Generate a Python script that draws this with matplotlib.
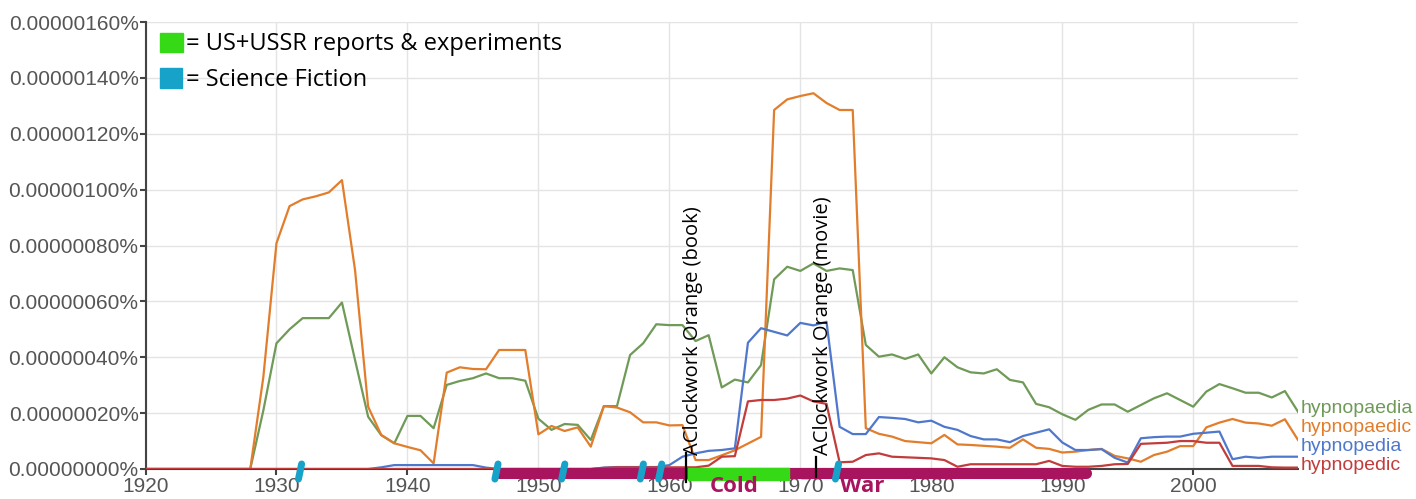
"""Google Ngram chart for hypnopaedia variants, with hand-drawn style notes."""

import matplotlib

matplotlib.use("Agg")
import matplotlib.pyplot as plt
from matplotlib.patches import Rectangle
from matplotlib.ticker import FuncFormatter, MultipleLocator

# values in units of 1e-8 percent
years = list(range(1920, 2009))

hypnopaedia = [
    0, 0, 0, 0, 0, 0, 0, 0, 0, 21,
    45, 50, 54, 54, 54, 59.6, 39, 18.7, 12.1, 9.2,
    19, 19, 14.6, 30.1, 31.5, 32.5, 34.2, 32.5, 32.5, 31.6,
    18, 14, 16.1, 15.8, 10.4, 22.5, 22.5, 40.8, 45, 51.8,
    51.5, 51.5, 45.8, 47.9, 29.2, 32, 31, 37.2, 67.9, 72.4,
    70.9, 73.6, 70.9, 71.8, 71.2, 44.4, 40.2, 41, 39.4, 41,
    34.2, 40, 36.4, 34.6, 34.2, 35.7, 31.9, 31, 23.3, 22.1,
    19.6, 17.6, 21.2, 23.1, 23.1, 20.5, 22.9, 25.3, 27.1, 24.7,
    22.3, 27.7, 30.4, 28.9, 27.3, 27.3, 25.6, 27.9, 20.5,
]
hypnopaedic = [
    0, 0, 0, 0, 0, 0, 0, 0, 0, 33,
    80.8, 94.1, 96.5, 97.6, 99, 103.4, 71.2, 22.3, 12.2, 9.2,
    7.9, 6.7, 2, 34.5, 36.4, 35.8, 35.7, 42.6, 42.6, 42.6,
    12.4, 15.4, 13.6, 14.9, 8, 22.5, 22, 20.3, 16.7, 16.7,
    15.6, 15.7, 3.2, 3.2, 4.9, 6.7, 9.1, 11.5, 128.5, 132.3,
    133.5, 134.5, 131, 128.5, 128.5, 14.6, 12.6, 11.6, 10, 9.6,
    9.2, 12.2, 8.8, 8.6, 8.3, 8, 7.6, 10.6, 7.6, 7.2,
    5.9, 6.2, 6.8, 7.2, 4.7, 3.8, 2.6, 5, 6.2, 8.2,
    8.2, 14.9, 16.6, 17.9, 16.6, 16.3, 15.5, 17.8, 10.4,
]
hypnopedia = [
    0, 0, 0, 0, 0, 0, 0, 0, 0, 0,
    0, 0, 0, 0, 0, 0, 0, 0, 0.6, 1.4,
    1.4, 1.4, 1.4, 1.4, 1.4, 1.4, 0.5, 0, 0, 0,
    0, 0, 0, 0, 0, 0.5, 0.7, 0.7, 0.7, 0.7,
    1.4, 4.4, 5.6, 6.5, 6.8, 7.4, 45.2, 50.4, 49.1, 47.8,
    52.3, 51.4, 52.7, 15.1, 12.5, 12.5, 18.6, 18.3, 17.9, 16.7,
    17.3, 15.1, 14, 11.8, 10.6, 10.6, 9.6, 11.8, 13, 14.2,
    9.5, 6.8, 6.8, 7.1, 4, 2.3, 11, 11.4, 11.6, 11.6,
    12.6, 13, 13.4, 3.5, 4.4, 4, 4.4, 4.4, 4.4,
]
hypnopedic = [
    0, 0, 0, 0, 0, 0, 0, 0, 0, 0,
    0, 0, 0, 0, 0, 0, 0, 0, 0, 0,
    0, 0, 0, 0, 0, 0, 0, 0, 0, 0,
    0, 0, 0, 0, 0, 0.4, 0.6, 0.6, 0.6, 0.6,
    0.6, 0.6, 0.6, 1.2, 4.4, 4.6, 24.2, 24.7, 24.7, 25.2,
    26.3, 24.2, 23.3, 2.4, 2.6, 5, 5.6, 4.4, 4.2, 4,
    3.8, 3.2, 0.8, 1.7, 1.7, 1.7, 1.7, 1.7, 1.7, 2.9,
    1.1, 0.8, 0.8, 1.1, 1.7, 1.8, 9, 9.2, 9.4, 10,
    10, 9.4, 9.4, 1.1, 1.1, 1.1, 0.6, 0.5, 0.5,
]

series_names = ["hypnopaedia", "hypnopaedic", "hypnopedia", "hypnopedic"]
series_values = [hypnopaedia, hypnopaedic, hypnopedia, hypnopedic]
series_colors = ["#6f9a58", "#e27d2c", "#4f78cc", "#c23c3c"]

# hand-drawn notes
cold_war_span = (1947, 1991.8)
experiments_span = (1961.4, 1969.1)
scifi_years = [1931.8, 1946.8, 1951.9, 1957.9, 1959.3, 1972.8]
book_year = 1961.25
movie_year = 1971.2

MAGENTA = "#a8145e"
CYAN = "#17a2c9"
LIME = "#35d915"
HAND_FONT = ["Open Sans", "DejaVu Sans"]

W, H = 1416, 499
fig = plt.figure(figsize=(W / 100, H / 100), dpi=100)
ax = fig.add_axes([145.5 / W, 30 / H, (1298 - 145.5) / W, 447 / H])

for name, values, color in zip(series_names, series_values, series_colors):
    ax.plot(years, values, color=color, linewidth=1.6, zorder=3)

ax.set_xlim(1920, 2008)
ax.set_ylim(0, 160)
ax.xaxis.set_major_locator(MultipleLocator(10))
ax.yaxis.set_major_locator(MultipleLocator(20))
ax.yaxis.set_major_formatter(FuncFormatter(lambda v, _: f"{v * 1e-8:.8f}%"))
ax.grid(True, color="#e4e4e4", linewidth=1.0, zorder=0)
ax.set_axisbelow(True)
for side in ("top", "right"):
    ax.spines[side].set_visible(False)
for side in ("left", "bottom"):
    ax.spines[side].set_color("#444444")
    ax.spines[side].set_linewidth(1.5)
ax.tick_params(axis="both", colors="#444444", length=4, width=1.5,
               labelsize=15, labelcolor="#555555")
ax.tick_params(axis="x", pad=2)
ax.tick_params(axis="y", pad=1)
for label in ax.get_xticklabels() + ax.get_yticklabels():
    label.set_fontfamily("Liberation Sans")

# series names at the right end, pushed apart so they don't overlap
order = sorted(range(len(series_names)), key=lambda i: series_values[i][-1])
label_y = {}
prev = None
for i in order:
    y = max(series_values[i][-1], 1.4)
    if prev is not None:
        y = max(y, prev + 6.8)
    label_y[i] = y
    prev = y
for i, name in enumerate(series_names):
    ax.text(2008.2, label_y[i], name, color=series_colors[i], fontsize=14,
            family="Liberation Sans", va="center", ha="left", clip_on=False)

# Cold War marker along the axis
ax.plot(cold_war_span, [-1.3, -1.3], color=MAGENTA, linewidth=8,
        solid_capstyle="round", clip_on=False, zorder=5)
ax.add_patch(Rectangle((experiments_span[0], -3.9),
                       experiments_span[1] - experiments_span[0], 4.3,
                       color=LIME, clip_on=False, zorder=6))
for yr in scifi_years:
    ax.plot([yr - 0.12, yr + 0.12], [-3.6, 1.8], color=CYAN, linewidth=5,
            solid_capstyle="round", clip_on=False, zorder=7)

fig.text(734 / W, 1.5 / H, "Cold", color=MAGENTA, fontsize=16, fontweight="bold",
         family=HAND_FONT, ha="center", va="bottom")
fig.text(862 / W, 1.5 / H, "War", color=MAGENTA, fontsize=16, fontweight="bold",
         family=HAND_FONT, ha="center", va="bottom")

# A Clockwork Orange notes
ax.plot([book_year, book_year], [-4.5, 5.8], color="black", linewidth=1.6,
        clip_on=False, zorder=8)
ax.text(book_year + 0.55, 5, "AClockwork Orange (book)", rotation=90,
        fontsize=14.5, family=HAND_FONT, ha="center", va="bottom", zorder=8)
ax.plot([movie_year, movie_year], [-2.8, 4.2], color="black", linewidth=1.6,
        clip_on=False, zorder=8)
ax.text(movie_year + 0.5, 5, "AClockwork Orange (movie)", rotation=90,
        fontsize=14.5, family=HAND_FONT, ha="center", va="bottom", zorder=8)

# hand-drawn legend
fig.patches.append(Rectangle((160 / W, 1 - 52 / H), 23 / W, 19 / H,
                             color=LIME, transform=fig.transFigure))
fig.patches.append(Rectangle((160 / W, 1 - 88 / H), 22 / W, 20 / H,
                             color=CYAN, transform=fig.transFigure))
fig.text(186 / W, 1 - 44 / H, "= US+USSR reports & experiments", fontsize=17,
         family=HAND_FONT, va="center", ha="left")
fig.text(186 / W, 1 - 80 / H, "= Science Fiction", fontsize=17,
         family=HAND_FONT, va="center", ha="left")

fig.savefig("out.png", dpi=100)
